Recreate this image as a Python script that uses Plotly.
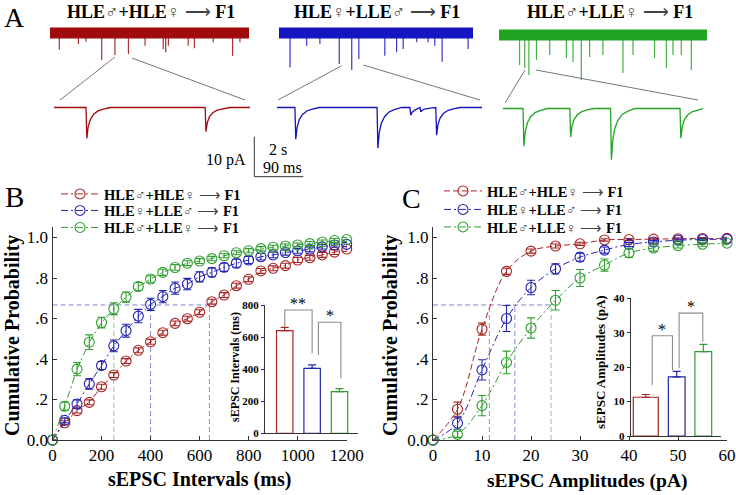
import plotly.graph_objects as go

# ---------------- data ----------------
group_names = ["HLE♂+HLE♀ ⟶ F1", "HLE♀+LLE♂ ⟶ F1", "HLE♂+LLE♀ ⟶ F1"]
curve_colors = ["#a82424", "#2424b4", "#2f9e2f"]
trace_colors = ["#a00c0c", "#1414c0", "#22a322"]

# Panel B: cumulative probability of sEPSC intervals
interval_ms = [0, 50, 100, 150, 200, 250, 300, 350, 400, 450, 500, 550, 600,
               650, 700, 750, 800, 850, 900, 950, 1000, 1050, 1100, 1150, 1200]
int_red = [0, 0.085, 0.145, 0.186, 0.263, 0.321, 0.39, 0.443, 0.485, 0.53, 0.576, 0.599, 0.631,
           0.683, 0.716, 0.762, 0.794, 0.835, 0.848, 0.861, 0.889, 0.90, 0.914, 0.928, 0.943]
int_blue = [0, 0.097, 0.178, 0.277, 0.368, 0.465, 0.54, 0.612, 0.67, 0.708, 0.75, 0.77, 0.806,
            0.828, 0.853, 0.873, 0.889, 0.905, 0.914, 0.926, 0.934, 0.942, 0.954, 0.963, 0.966]
int_green = [0, 0.167, 0.35, 0.483, 0.58, 0.648, 0.706, 0.758, 0.795, 0.828, 0.852, 0.873, 0.884,
             0.896, 0.91, 0.925, 0.935, 0.945, 0.952, 0.958, 0.963, 0.97, 0.978, 0.985, 0.99]
int_red_err = [0, 0.01, 0.012, 0.012, 0.012, 0.012, 0.012, 0.012, 0.012, 0.012, 0.012, 0.012, 0.012,
               0.012, 0.012, 0.012, 0.012, 0.012, 0.012, 0.012, 0.012, 0.012, 0.012, 0.012, 0.012]
int_blue_err = [0, 0.012, 0.02, 0.026, 0.02, 0.029, 0.032, 0.033, 0.03, 0.03, 0.03, 0.028, 0.025,
                0.022, 0.02, 0.02, 0.018, 0.016, 0.014, 0.013, 0.012, 0.012, 0.011, 0.01, 0.01]
int_green_err = [0, 0.02, 0.033, 0.036, 0.026, 0.029, 0.025, 0.02, 0.016, 0.015, 0.014, 0.012, 0.012,
                 0.011, 0.01, 0.01, 0.01, 0.01, 0.01, 0.01, 0.01, 0.01, 0.01, 0.01, 0.01]

# Panel C: cumulative probability of sEPSC amplitudes
amplitude_pA = [0, 5, 10, 15, 20, 25, 30, 35, 40, 45, 50, 55, 60]
amp_red = [0, 0.152, 0.547, 0.833, 0.933, 0.958, 0.969, 0.988, 0.99, 0.992, 0.994, 0.995, 0.996]
amp_blue = [0, 0.083, 0.346, 0.6, 0.753, 0.845, 0.903, 0.938, 0.966, 0.978, 0.987, 0.99, 0.992]
amp_green = [0, 0.028, 0.17, 0.383, 0.553, 0.69, 0.80, 0.864, 0.924, 0.948, 0.96, 0.967, 0.972]
amp_red_err = [0, 0.035, 0.03, 0.015, 0.01, 0.01, 0.008, 0.006, 0.005, 0.005, 0.005, 0.005, 0.005]
amp_blue_err = [0, 0.03, 0.05, 0.064, 0.036, 0.025, 0.02, 0.015, 0.01, 0.008, 0.006, 0.005, 0.005]
amp_green_err = [0, 0.015, 0.05, 0.056, 0.05, 0.048, 0.042, 0.03, 0.022, 0.015, 0.012, 0.01, 0.008]

# reference (dashed) guides
guide_level = 0.667
int_cross = [640, 400, 250]
amp_cross = [11.5, 16.7, 24.1]

# insets: mean values
bar_pos = [1, 2, 3]
bar_int = [640, 405, 260]
bar_int_err = [20, 22, 18]
bar_amp = [11.25, 17.2, 24.5]
bar_amp_err = [0.8, 1.6, 2.1]
sig_int = [("**", [1.0, 1.0, 2.0, 2.0], [665, 769, 769, 499]),
           ("*", [2.23, 2.23, 3.05, 3.05], [488, 692, 692, 343])]
sig_amp = [("*", [1.08, 1.08, 1.84, 1.84], [14.8, 29.1, 29.1, 19.0]),
           ("*", [2.09, 2.09, 2.98, 2.98], [19.7, 35.7, 35.7, 27.4])]

# Panel A: recordings (time in s for long traces, ms for expanded traces; current in pA)
long_dur_s = [8.12, 7.92, 8.49]
long_events = [
    [(0.38, -4.2), (1.16, -2.75), (1.47, -2.2), (2.11, -6.75), (2.65, -5.5), (3.2, -5.25),
     (3.88, -3.2), (4.62, -4.0), (4.72, -4.8), (4.83, -3.2), (5.64, -3.2), (5.89, -3.8),
     (6.66, -2.3), (7.45, -5.7), (7.75, -2.3)],
    [(0.45, -8.6), (1.13, -3.2), (1.67, -2.75), (2.46, -7.75), (2.97, -9.25), (3.26, -6.5),
     (4.32, -5.7), (4.8, -4.8), (5.07, -4.0), (5.62, -2.3), (6.09, -2.3), (6.36, -3.2),
     (6.66, -7.2), (7.72, -4.0)],
    [(0.84, -7.5), (1.05, -8.25), (1.22, -10.0), (1.53, -6.25), (2.07, -5.0), (2.75, -5.75),
     (3.02, -6.75), (3.36, -11.25), (3.7, -5.5), (4.24, -5.0), (5.06, -9.5), (5.47, -5.0),
     (6.35, -5.75), (6.83, -8.25), (7.1, -5.0), (7.44, -5.0), (7.85, -8.75)],
]
short_dur_ms = [360, 377, 367]
short_events = [
    [(58.8, -7.7), (277.6, -6.05)],
    [(33, -7.95), (184, -10.2), (244.5, -1.9), (263, -1.1), (292, -6.9)],
    [(36.8, -9.4), (122.6, -7.1), (197.4, -12.8), (324.8, -7.4)],
]
# sEPSC waveform shape (ms after onset, fraction of peak)
wave_ms = [0, 1.5, 4, 8, 14, 22, 32, 45]
wave_frac = [0, 1, 0.62, 0.38, 0.22, 0.11, 0.05, 0]

# ---------------- figure ----------------
W, H = 736, 495
def PX(x):
    return x / W
def PY(y):
    return 1 - y / H

SERIF = "Liberation Serif"

def rich(name):
    out = name
    for s in ("♂", "♀", "⟶"):
        out = out.replace(s, "<span style='font-weight:normal;color:#444'>%s</span>" % s)
    return "<b>" + out + "</b>"

fig = go.Figure()

int_series = [(int_red, int_red_err), (int_blue, int_blue_err), (int_green, int_green_err)]
amp_series = [(amp_red, amp_red_err), (amp_blue, amp_blue_err), (amp_green, amp_green_err)]

# guides B and C
for xa, ya, cross in (("x", "y", int_cross), ("x2", "y2", amp_cross)):
    for i in range(3):
        fig.add_trace(go.Scatter(x=[cross[i], cross[i]], y=[0, guide_level], mode="lines",
                                 line=dict(color=curve_colors[i], width=1, dash="5px,3px"),
                                 opacity=0.55, showlegend=False, hoverinfo="skip", xaxis=xa, yaxis=ya))
    fig.add_trace(go.Scatter(x=[0, max(cross)], y=[guide_level, guide_level], mode="lines",
                             line=dict(color=curve_colors[1], width=1, dash="5px,3px"), opacity=0.55,
                             showlegend=False, hoverinfo="skip", xaxis=xa, yaxis=ya))

# curves B (one legend per entry so that rows can sit as tightly as in the original)
for i, (vals, errs) in enumerate(int_series):
    fig.add_trace(go.Scatter(
        x=interval_ms, y=vals, mode="lines+markers", name=rich(group_names[i]),
        line=dict(color=curve_colors[i], width=1, dash="7px,3px,2px,3px"),
        marker=dict(symbol="circle-open", size=10, color=curve_colors[i], line=dict(width=1.1)),
        error_y=dict(type="data", array=errs, color=curve_colors[i], thickness=1.1, width=4),
        cliponaxis=False, xaxis="x", yaxis="y", legend="legend" if i == 0 else "legend%d" % (i + 1)))
# curves C
c_dash = ["6px,3px", "7px,3px,2px,3px", "7px,3px,2px,3px"]
for i, (vals, errs) in enumerate(amp_series):
    fig.add_trace(go.Scatter(
        x=amplitude_pA, y=vals, mode="lines+markers", name=rich(group_names[i]),
        line=dict(color=curve_colors[i], width=1, dash=c_dash[i], shape="spline", smoothing=1.0),
        marker=dict(symbol="circle-open", size=10, color=curve_colors[i], line=dict(width=1.1)),
        error_y=dict(type="data", array=errs, color=curve_colors[i], thickness=1.1, width=4),
        cliponaxis=False, xaxis="x2", yaxis="y2", legend="legend%d" % (i + 4)))

# inset bars
fig.add_trace(go.Bar(x=bar_pos, y=bar_int, width=0.6,
                     marker=dict(color="white", line=dict(color=curve_colors, width=1.2)),
                     showlegend=False, hoverinfo="skip", xaxis="x3", yaxis="y3"))
fig.add_trace(go.Bar(x=bar_pos, y=bar_amp, width=[0.94, 0.63, 0.63], offset=[-0.632, -0.315, -0.315],
                     marker=dict(color="white", line=dict(color=curve_colors, width=1.2)),
                     showlegend=False, hoverinfo="skip", xaxis="x4", yaxis="y4"))
for ax, vals, errs, xs in (("3", bar_int, bar_int_err, bar_pos),
                           ("4", bar_amp, bar_amp_err, [bar_pos[0] - 0.162, bar_pos[1], bar_pos[2]])):
    for i in range(3):
        fig.add_trace(go.Scatter(x=[xs[i]], y=[vals[i]], mode="markers", marker=dict(size=1, opacity=0),
                                 error_y=dict(type="data", array=[errs[i]], arrayminus=[0], symmetric=False,
                                              color=curve_colors[i], thickness=1.2, width=4),
                                 showlegend=False, hoverinfo="skip", xaxis="x" + ax, yaxis="y" + ax))

annotations = []
for ax, sigs in (("3", sig_int), ("4", sig_amp)):
    for star, bx, by in sigs:
        fig.add_trace(go.Scatter(x=bx, y=by, mode="lines", line=dict(color="#8c8c8c", width=1.1),
                                 showlegend=False, hoverinfo="skip", xaxis="x" + ax, yaxis="y" + ax))
        annotations.append(dict(x=(bx[1] + bx[2]) / 2, y=by[1], xref="x" + ax, yref="y" + ax,
                                text=star, showarrow=False, yanchor="bottom", yshift=-4,
                                font=dict(family=SERIF, size=16, color="black")))

# Panel A traces
top_dom = [((50, 249), (20, 85)), ((279, 473), (20, 85)), ((499, 707), (22, 87))]
bot_dom = [((54, 250), (95, 165)), ((277, 482), (95, 165)), ((503, 703), (96, 166))]
extra_axes = {}
for g in range(3):
    ta = 5 + g
    ba = 8 + g
    dur = long_dur_s[g]
    fig.add_trace(go.Scatter(x=[0, dur], y=[0, 0], mode="lines",
                             line=dict(color=trace_colors[g], width=11), showlegend=False,
                             hoverinfo="skip", xaxis="x%d" % ta, yaxis="y%d" % ta))
    sx, sy = [], []
    for t, a in long_events[g]:
        sx += [t, t, None]
        sy += [0, a, None]
    fig.add_trace(go.Scatter(x=sx, y=sy, mode="lines", line=dict(color=trace_colors[g], width=1.2),
                             opacity=0.85, showlegend=False, hoverinfo="skip",
                             xaxis="x%d" % ta, yaxis="y%d" % ta))
    evs = sorted(short_events[g])
    wx, wy = [0], [0]
    for k, (t, a) in enumerate(evs):
        nxt = evs[k + 1][0] if k + 1 < len(evs) else short_dur_ms[g]
        for o, f in zip(wave_ms, wave_frac):
            if t + o < nxt:
                wx.append(t + o)
                wy.append(a * f)
    wx.append(short_dur_ms[g])
    wy.append(0)
    fig.add_trace(go.Scatter(x=wx, y=wy, mode="lines", line=dict(color=trace_colors[g], width=1.3),
                             showlegend=False, hoverinfo="skip", xaxis="x%d" % ba, yaxis="y%d" % ba))
    (tx0, tx1), (ty0, ty1) = top_dom[g]
    (bx0, bx1), (by0, by1) = bot_dom[g]
    extra_axes["xaxis%d" % ta] = dict(domain=[PX(tx0), PX(tx1)], range=[0, dur], visible=False,
                                      anchor="y%d" % ta, automargin=False)
    extra_axes["yaxis%d" % ta] = dict(domain=[PY(ty1), PY(ty0)], range=[-13, 3.25], visible=False,
                                      anchor="x%d" % ta, automargin=False)
    extra_axes["xaxis%d" % ba] = dict(domain=[PX(bx0), PX(bx1)], range=[0, short_dur_ms[g]],
                                      visible=False, anchor="y%d" % ba, automargin=False)
    extra_axes["yaxis%d" % ba] = dict(domain=[PY(by1), PY(by0)], range=[-14.375, 3.125],
                                      visible=False, anchor="x%d" % ba, automargin=False)

tickfont = dict(family=SERIF, size=17, color="black")
inset_tickfont = dict(family=SERIF, size=11, color="black", weight="bold")
axis_common = dict(showline=True, linecolor="#333", linewidth=1, ticks="inside", ticklen=4,
                   tickcolor="#333", showgrid=False, zeroline=False, tickfont=tickfont,
                   automargin=False)
inset_x = dict(showline=True, linecolor="#333", linewidth=1, showticklabels=False, ticks="",
               showgrid=False, zeroline=False, automargin=False)
inset_y = dict(showline=True, linecolor="#333", linewidth=1, ticks="outside", ticklen=3,
               tickcolor="#333", tickfont=inset_tickfont, showgrid=False, zeroline=False,
               automargin=False)

prob_ticks = [0, 0.2, 0.4, 0.6, 0.8, 1.0]
prob_text = ["0.0", ".2", ".4", ".6", ".8", "1.0"]

layout_axes = dict(
    xaxis=dict(domain=[PX(52.5), PX(346.7)], range=[0, 1200], anchor="y",
               tickvals=[0, 200, 400, 600, 800, 1000, 1200], **axis_common),
    yaxis=dict(domain=[PY(440), PY(227.4)], range=[0, 1.05], anchor="x",
               tickvals=prob_ticks, ticktext=prob_text, **axis_common),
    xaxis2=dict(domain=[PX(433), PX(727)], range=[0, 60], anchor="y2",
                tickvals=[0, 10, 20, 30, 40, 50, 60], **axis_common),
    yaxis2=dict(domain=[PY(440), PY(227.4)], range=[0, 1.05], anchor="x2",
                tickvals=prob_ticks, ticktext=prob_text, **axis_common),
    xaxis3=dict(domain=[PX(265), PX(358)], range=[0.28, 3.675], anchor="y3", **inset_x),
    yaxis3=dict(domain=[PY(433.3), PY(305)], range=[0, 800], anchor="x3",
                tickvals=[0, 200, 400, 600, 800], **inset_y),
    xaxis4=dict(domain=[PX(630.7), PX(721)], range=[0.27, 3.665], anchor="y4", **inset_x),
    yaxis4=dict(domain=[PY(436), PY(298.3)], range=[0, 40], anchor="x4",
                tickvals=[0, 10, 20, 30, 40], **inset_y),
)
layout_axes.update(extra_axes)

def txt(text, x, y, size, bold=False, angle=0, xanchor="center", color="black"):
    return dict(text=("<b>%s</b>" % text) if bold else text, x=PX(x), y=PY(y), xref="paper",
                yref="paper", showarrow=False, textangle=angle, xanchor=xanchor, yanchor="middle",
                font=dict(family=SERIF, size=size, color=color))

annotations += [
    txt("A", 14, 17, 28), txt("B", 14, 197, 29), txt("C", 411, 199, 28),
    txt(rich(group_names[0]), 151, 12, 18),
    txt(rich(group_names[1]), 377, 12, 18),
    txt(rich(group_names[2]), 610, 12, 18),
    txt("Cumulative Probability", 12, 336, 20, bold=True, angle=-90),
    txt("Cumulative Probability", 390, 336, 20, bold=True, angle=-90),
    txt("sEPSC Intervals (ms)", 199, 479, 20, bold=True),
    txt("sEPSC Amplitudes (pA)", 587, 481, 19.5, bold=True),
    txt("sEPSC Intervals (ms)", 235, 367, 12, bold=True, angle=-90),
    txt("sEPSC Amplitudes (pA)", 600, 362, 13, bold=True, angle=-90),
    txt("10 pA", 248, 160, 16, xanchor="right"),
    txt("2 s", 278, 150, 16),
    txt("90 ms", 282, 168, 16),
]

def pline(x0, y0, x1, y1, color="#777", width=1):
    return dict(type="line", xref="paper", yref="paper", x0=PX(x0), y0=PY(y0), x1=PX(x1), y1=PY(y1),
                line=dict(color=color, width=width))

shapes = [
    pline(115, 57, 60, 100), pline(132, 58, 245, 100),
    pline(341.7, 65.7, 278, 100), pline(363.3, 65, 480, 100),
    pline(525, 70, 505, 103), pline(536, 70, 698, 100),
    pline(254.3, 136.7, 254.3, 176.7, color="#333"), pline(254.3, 176.7, 303.3, 176.7, color="#333"),
]

legend_common = dict(xanchor="left", yanchor="top", bgcolor="rgba(0,0,0,0)",
                     font=dict(family=SERIF, size=14.5, color="black"),
                     itemwidth=38, borderwidth=0)
legends = {}
b_tops = [178, 194.5, 211.5]
c_tops = [175, 193.5, 211]
for i in range(3):
    key = "legend" if i == 0 else "legend%d" % (i + 1)
    legends[key] = dict(x=PX(56), y=PY(b_tops[i]), **legend_common)
    legends["legend%d" % (i + 4)] = dict(x=PX(439), y=PY(c_tops[i]), **legend_common)

fig.update_layout(
    template="none",
    width=W, height=H, margin=dict(l=0, r=0, t=0, b=0, pad=0, autoexpand=False),
    paper_bgcolor="white", plot_bgcolor="rgba(0,0,0,0)", showlegend=True,
    font=dict(family=SERIF, color="black"),
    annotations=annotations, shapes=shapes, barmode="overlay",
    **legends, **layout_axes,
)
fig.write_html("out.html", config={"displayModeBar": False},
               post_script="document.body.style.margin='0px';document.body.style.padding='0px';"
                           "document.body.style.overflow='hidden';")
